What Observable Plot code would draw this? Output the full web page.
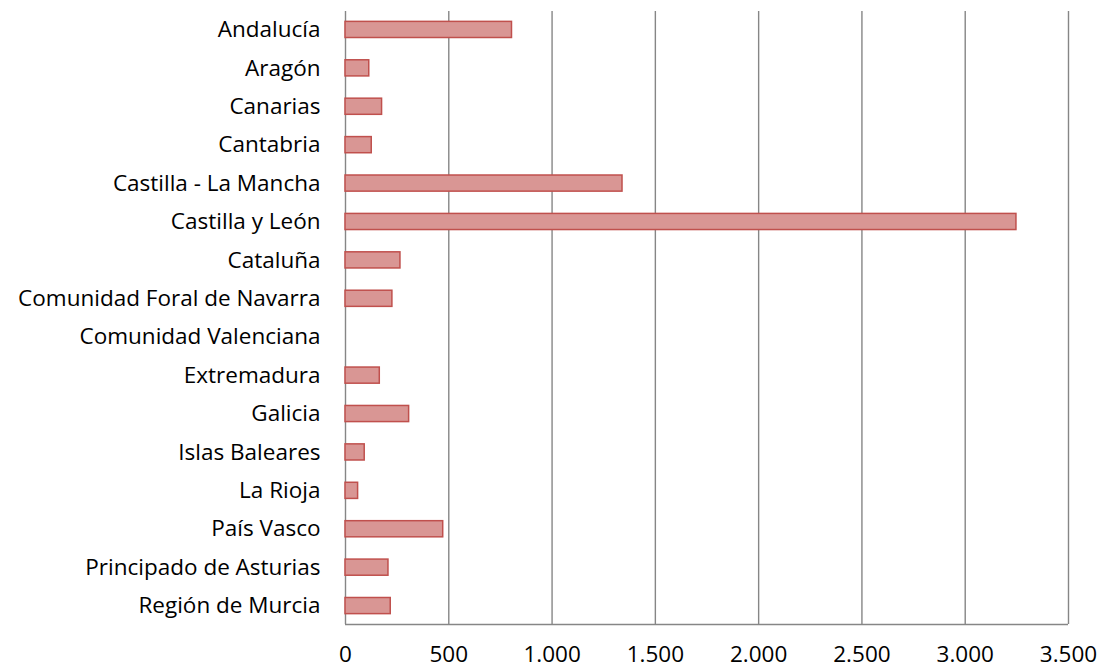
<!DOCTYPE html>
<html>
<head>
<meta charset="utf-8">
<script src="https://cdn.jsdelivr.net/npm/d3@7"></script>
<script src="https://cdn.jsdelivr.net/npm/@observablehq/plot@0.6"></script>
<style>
  html, body { margin: 0; padding: 0; background: #fff; }
  #chart svg { display: block; }
</style>
</head>
<body>
<div id="chart"></div>
<script>
const regions = [
  "Andalucía", "Aragón", "Canarias", "Cantabria", "Castilla - La Mancha",
  "Castilla y León", "Cataluña", "Comunidad Foral de Navarra", "Comunidad Valenciana",
  "Extremadura", "Galicia", "Islas Baleares", "La Rioja", "País Vasco",
  "Principado de Asturias", "Región de Murcia"
];
const values = [806, 115, 177, 127, 1341, 3248, 266, 227, 0, 166, 308, 93, 61, 473, 208, 219];
const xTicks = [0, 500, 1000, 1500, 2000, 2500, 3000, 3500];

const data = regions.map((r, i) => ({region: r, value: values[i]}));
const fmt = d => d3.format(",")(d).replace(/,/g, ".");

const chart = Plot.plot({
  width: 1105,
  height: 669,
  marginLeft: 345,
  marginRight: 37,
  marginTop: 11,
  marginBottom: 45,
  style: {fontFamily: "'Open Sans', sans-serif", fontSize: "22.5px", color: "#000", background: "#fff"},
  x: {domain: [0, 3500], ticks: xTicks, tickFormat: fmt, tickSize: 0, tickPadding: 22, label: null},
  y: {domain: regions, tickSize: 0, tickPadding: 25, label: null, paddingInner: 0.58, paddingOuter: 0.27, round: false},
  marks: [
    Plot.gridX(xTicks, {stroke: "#868686", strokeOpacity: 1, strokeWidth: 1.4}),
    // category-axis baseline just below the last band
    Plot.ruleY([regions[regions.length - 1]], {x1: 0, x2: 3500, dy: 18.4, stroke: "#868686", strokeWidth: 1.4}),
    Plot.barX(data.filter(d => d.value > 0), {y: "region", x: "value", fill: "#D99694", stroke: "#C0504D", strokeWidth: 1.5})
  ]
});
document.getElementById("chart").appendChild(chart);
</script>
</body>
</html>
